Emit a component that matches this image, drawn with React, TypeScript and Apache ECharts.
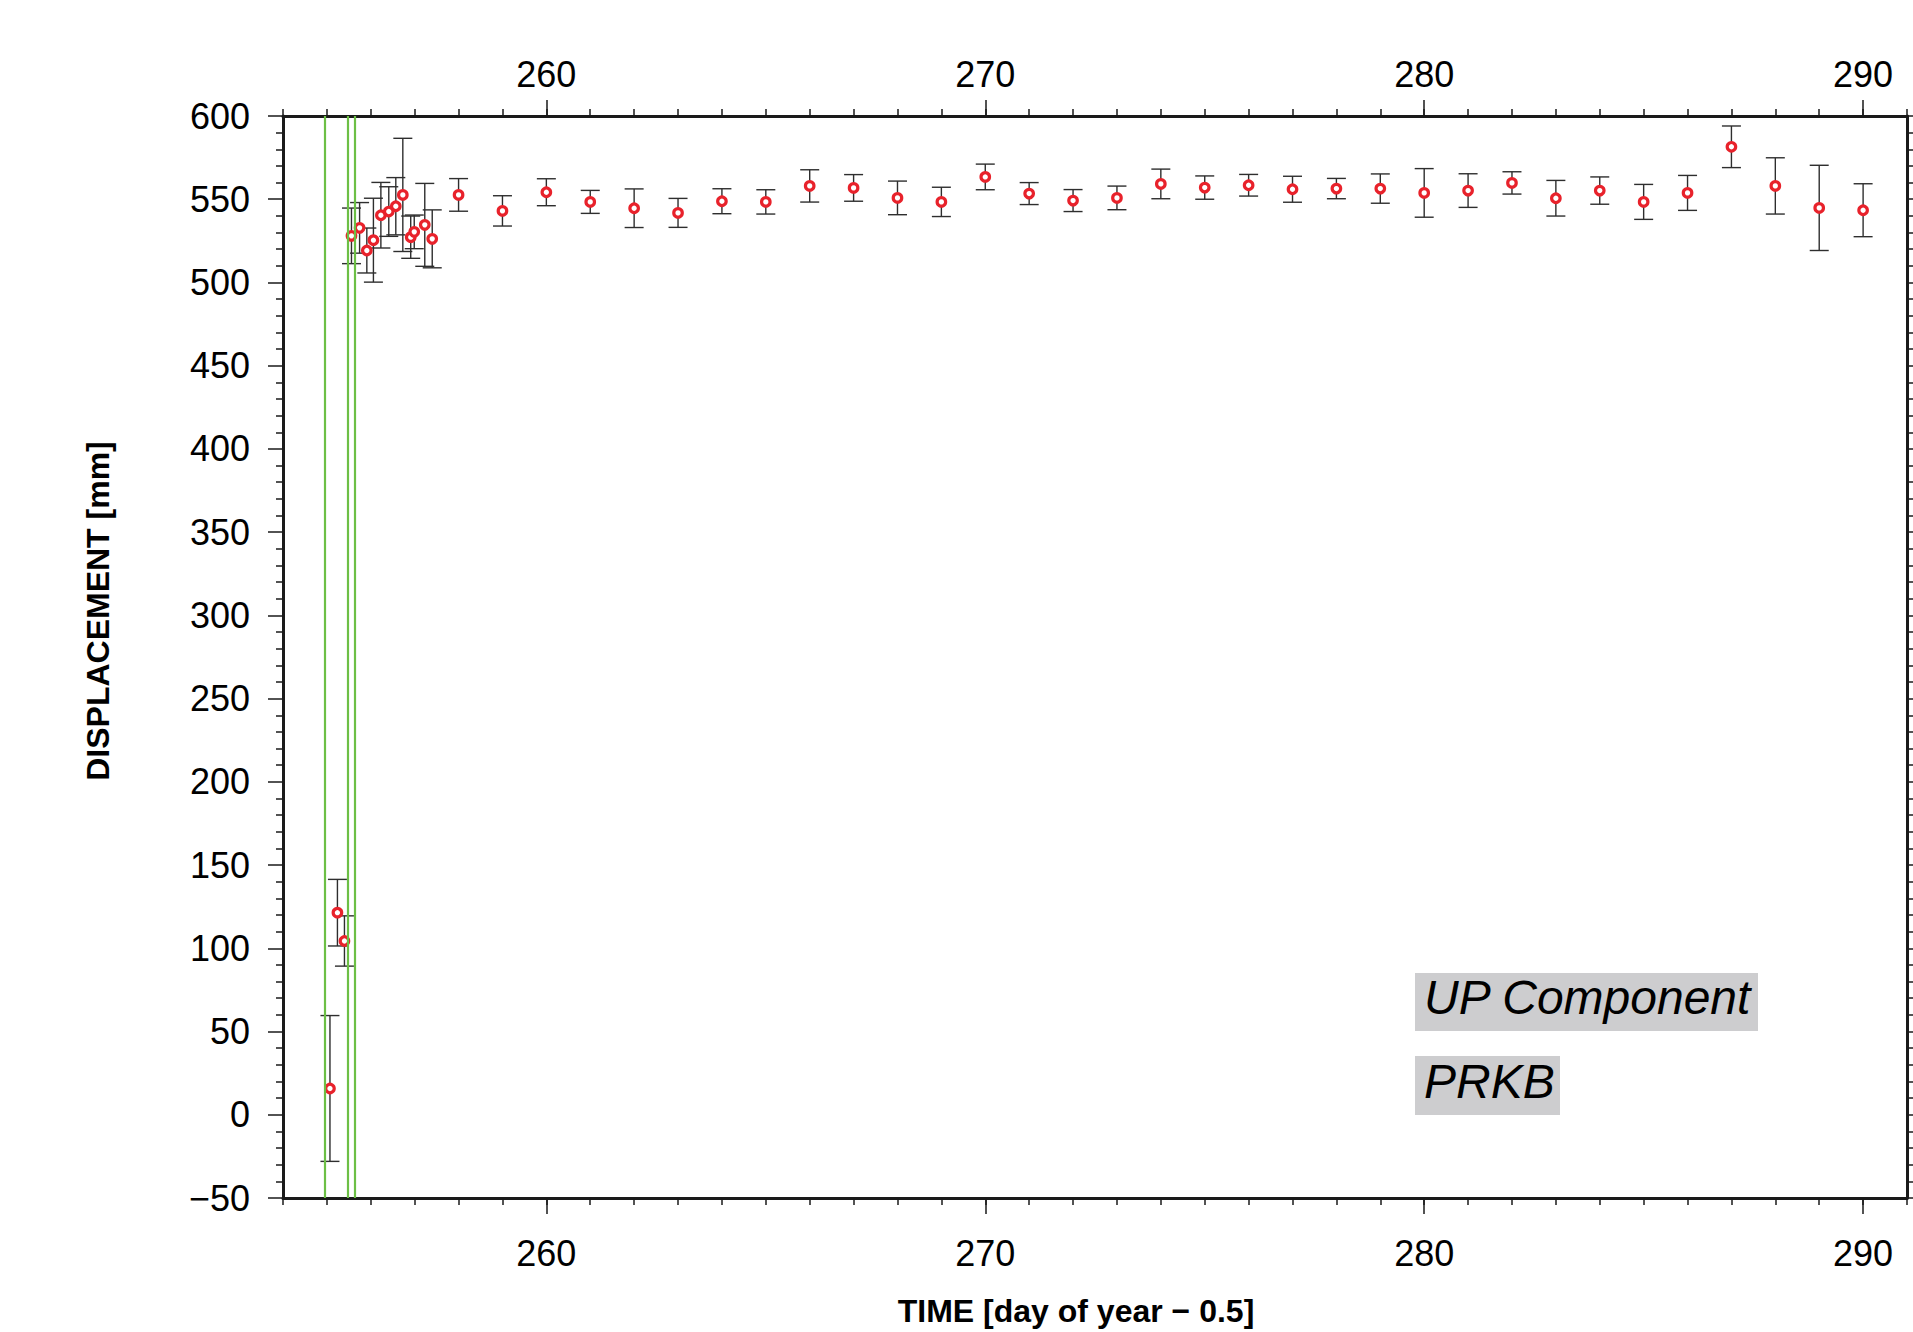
import React, { useEffect, useRef } from "react";
import * as echarts from "echarts";

// Observation epochs (day of year − 0.5)
const days = [
  255.07, 255.24, 255.40, 255.56, 255.745, 255.91, 256.06, 256.23, 256.41, 256.57,
  256.73, 256.91, 256.99, 257.23, 257.40,
  258, 259, 260, 261, 262, 263, 264, 265, 266, 267, 268, 269, 270, 271, 272, 273,
  274, 275, 276, 277, 278, 279, 280, 281, 282, 283, 284, 285, 286, 287, 288, 289, 290,
];

// Vertical displacement [mm]
const displacement = [
  15.8, 121.4, 104.4, 528, 532.8, 519.2, 525.4, 540.4, 542.6, 545.8,
  552.6, 527.2, 530.4, 534.6, 526.2,
  552.6, 543, 554.2, 548.4, 544.6, 541.8, 548.8, 548.4, 558, 556.8, 550.8, 548.4, 563.4, 553.4, 549.2, 550.8,
  559.2, 557, 558.4, 556, 556.4, 556.4, 553.8, 555.2, 559.8, 550.6, 555.2, 548.4, 553.8, 581.5, 558, 544.8, 543.4,
];

// One-sigma uncertainty [mm]
const sigma = [
  43.8, 20, 15.1, 16.7, 15.2, 13.5, 25.2, 19.7, 14.9, 17.2,
  34, 12.7, 10.1, 24.9, 17.4,
  9.8, 9.1, 8.1, 6.9, 11.6, 8.7, 7.5, 7.3, 9.7, 8, 10.1, 8.8, 7.7, 6.6, 6.6, 7.1,
  8.9, 7, 6.5, 7.8, 6.1, 8.8, 14.6, 10.1, 6.7, 10.7, 8.2, 10.5, 10.5, 12.5, 16.9, 25.6, 15.9,
];

// Event times marked with vertical lines
const eventDays = [254.96, 255.48, 255.64];

// Axis ranges and labelled ticks
const xMin = 254;
const xMax = 291;
const xMajorTicks = [260, 270, 280, 290];
const yMin = -50;
const yMax = 600;
const yStep = 50;

const annotations = ["UP Component", "PRKB"];

const FONT = "'Liberation Sans', Arial, Helvetica, sans-serif";
const AXIS_COLOR = "#1a1a1a";

export default function App() {
  const ref = useRef<HTMLDivElement | null>(null);

  useEffect(() => {
    if (!ref.current) return;
    const chart = echarts.init(ref.current, undefined, { renderer: "svg" });

    const points = days.map((d, i) => [d, displacement[i]]);
    const bars = days.map((d, i) => [d, displacement[i] - sigma[i], displacement[i] + sigma[i]]);

    const minorXAxis = (position: "top" | "bottom") => ({
      type: "value",
      position,
      min: xMin,
      max: xMax,
      interval: 1,
      axisLine: { show: true, onZero: false, lineStyle: { color: AXIS_COLOR, width: 3 } },
      axisTick: { show: true, length: 7, lineStyle: { color: AXIS_COLOR, width: 1.5 } },
      axisLabel: { show: false },
      splitLine: { show: false },
    });

    const majorXAxis = (position: "top" | "bottom", margin: number) => ({
      type: "value",
      position,
      min: xMin,
      max: xMax,
      axisLine: { show: false, onZero: false },
      axisTick: {
        show: true,
        customValues: xMajorTicks,
        length: 16,
        lineStyle: { color: AXIS_COLOR, width: 1.5 },
      },
      axisLabel: {
        show: true,
        customValues: xMajorTicks,
        margin,
        fontSize: 36,
        fontFamily: FONT,
        color: "#000",
      },
      splitLine: { show: false },
    });

    const yAxis = (position: "left" | "right", showLabels: boolean) => ({
      type: "value",
      position,
      min: yMin,
      max: yMax,
      interval: yStep,
      axisLine: { show: true, onZero: false, lineStyle: { color: AXIS_COLOR, width: 3 } },
      axisTick: { show: true, length: 15, lineStyle: { color: AXIS_COLOR, width: 1.5 } },
      minorTick: { show: true, splitNumber: 5, length: 7, lineStyle: { color: AXIS_COLOR, width: 1.5 } },
      axisLabel: {
        show: showLabels,
        margin: 33,
        fontSize: 36,
        fontFamily: FONT,
        color: "#000",
        formatter: (v: number) => (v < 0 ? "\u2212" + Math.abs(v) : String(v)),
      },
      splitLine: { show: false },
      minorSplitLine: { show: false },
    });

    chart.setOption({
      animation: false,
      backgroundColor: "#fff",
      grid: { left: 283, right: 6, top: 116, bottom: 134, containLabel: false },
      xAxis: [
        minorXAxis("bottom"),
        majorXAxis("bottom", 37),
        minorXAxis("top"),
        majorXAxis("top", 24),
      ],
      yAxis: [yAxis("left", true), yAxis("right", false)],
      series: [
        {
          type: "scatter",
          name: "events",
          data: [],
          xAxisIndex: 0,
          yAxisIndex: 0,
          z: 1,
          markLine: {
            silent: true,
            symbol: "none",
            label: { show: false },
            lineStyle: { color: "#6cbf45", width: 2.2, type: "solid" },
            data: eventDays.map((d) => ({ xAxis: d })),
          },
        },
        {
          type: "custom",
          name: "sigma",
          xAxisIndex: 0,
          yAxisIndex: 0,
          z: 2,
          data: bars,
          encode: { x: 0, y: [1, 2] },
          renderItem: (_params: any, api: any) => {
            const x = api.value(0);
            const lo = api.coord([x, api.value(1)]);
            const hi = api.coord([x, api.value(2)]);
            const half = 9.5;
            const style = { stroke: "#2e2e2e", lineWidth: 1.4 };
            return {
              type: "group",
              children: [
                { type: "line", shape: { x1: hi[0], y1: hi[1], x2: lo[0], y2: lo[1] }, style },
                { type: "line", shape: { x1: hi[0] - half, y1: hi[1], x2: hi[0] + half, y2: hi[1] }, style },
                { type: "line", shape: { x1: lo[0] - half, y1: lo[1], x2: lo[0] + half, y2: lo[1] }, style },
              ],
            };
          },
        },
        {
          type: "scatter",
          name: "displacement",
          xAxisIndex: 0,
          yAxisIndex: 0,
          z: 3,
          data: points,
          symbol: "circle",
          symbolSize: 8.5,
          itemStyle: { color: "#ffffff", borderColor: "#e8222b", borderWidth: 3.2, opacity: 1 },
        },
      ],
      graphic: [
        {
          type: "rect",
          left: 1415,
          top: 973,
          shape: { width: 343, height: 58 },
          style: { fill: "#cdcdcf" },
          z: 10,
        },
        {
          type: "text",
          left: 1424,
          top: 973,
          style: { text: annotations[0], font: `italic 48px ${FONT}`, fill: "#000" },
          z: 11,
        },
        {
          type: "rect",
          left: 1415,
          top: 1056,
          shape: { width: 145, height: 59 },
          style: { fill: "#cdcdcf" },
          z: 10,
        },
        {
          type: "text",
          left: 1424,
          top: 1057,
          style: { text: annotations[1], font: `italic 48px ${FONT}`, fill: "#000" },
          z: 11,
        },
        {
          type: "text",
          x: 1076,
          y: 1311,
          style: {
            text: "TIME [day of year \u2212 0.5]",
            font: `bold 32px ${FONT}`,
            fill: "#000",
            align: "center",
            verticalAlign: "middle",
          },
        },
        {
          type: "text",
          x: 98,
          y: 611,
          rotation: Math.PI / 2,
          style: {
            text: "DISPLACEMENT [mm]",
            font: `bold 32px ${FONT}`,
            fill: "#000",
            align: "center",
            verticalAlign: "middle",
          },
        },
      ],
    });

    return () => chart.dispose();
  }, []);

  return (
    <div
      ref={ref}
      style={{ position: "fixed", left: 0, top: 0, width: 1913, height: 1332, background: "#fff" }}
    />
  );
}
